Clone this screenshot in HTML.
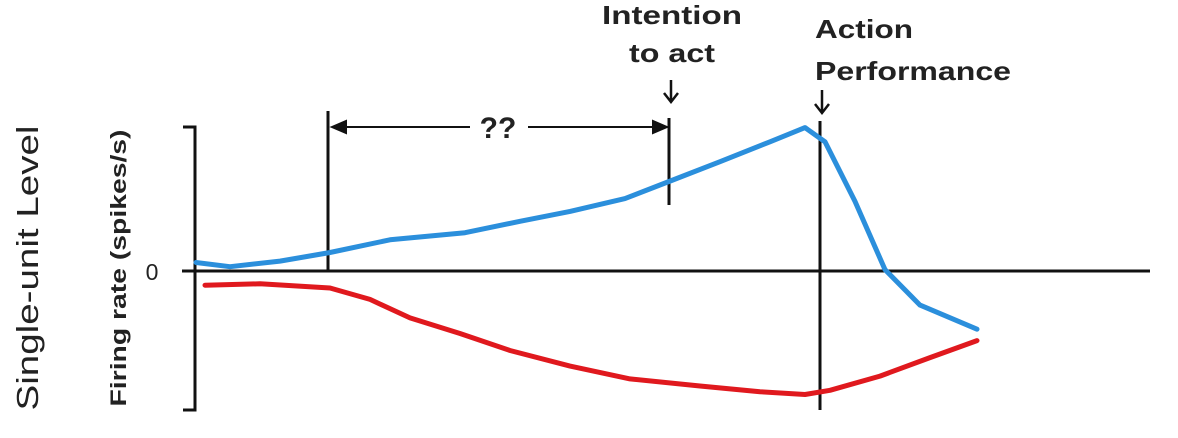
<!DOCTYPE html>
<html><head><meta charset="utf-8"><style>
html,body{margin:0;padding:0;background:#fff;}
svg{display:block;font-family:"Liberation Sans",sans-serif;}
</style></head><body>
<svg id="chart" width="1178" height="438" viewBox="0 0 1178 438">
<text transform="translate(38,268) rotate(-90)" text-anchor="middle" font-size="31" fill="#222" textLength="285" lengthAdjust="spacingAndGlyphs">Single-unit Level</text>
<text transform="translate(126,268) rotate(-90)" text-anchor="middle" font-size="22" font-weight="bold" fill="#222" textLength="277" lengthAdjust="spacingAndGlyphs">Firing rate (spikes/s)</text>
<text x="152" y="280" text-anchor="middle" font-size="23" fill="#222">0</text>
<g stroke="#111" stroke-width="3" fill="none">
<path d="M183,127 H195 V410 H183"/>
</g>
<line x1="182" y1="271" x2="1150" y2="271" stroke="#111" stroke-width="3"/>
<line x1="328" y1="111" x2="328" y2="271" stroke="#111" stroke-width="3"/>
<line x1="669" y1="118" x2="669" y2="205" stroke="#111" stroke-width="3"/>
<line x1="820" y1="121" x2="820" y2="410" stroke="#111" stroke-width="3"/>
<g stroke="#111" stroke-width="2" fill="#111">
<line x1="340" y1="127" x2="470" y2="127"/><line x1="528" y1="127" x2="658" y2="127"/>
<path d="M332,127 L346,121 L346,133 Z"/><path d="M667,127 L653,121 L653,133 Z"/>
</g>
<text x="498" y="138" text-anchor="middle" font-size="30" font-weight="bold" fill="#222">??</text>
<text x="672" y="24" text-anchor="middle" font-size="26" font-weight="bold" fill="#222" textLength="140" lengthAdjust="spacingAndGlyphs">Intention</text>
<text x="672" y="62" text-anchor="middle" font-size="26" font-weight="bold" fill="#222" textLength="86" lengthAdjust="spacingAndGlyphs">to act</text>
<text x="815" y="38" font-size="26" font-weight="bold" fill="#222" textLength="98" lengthAdjust="spacingAndGlyphs">Action</text>
<text x="815" y="80" font-size="26" font-weight="bold" fill="#222" textLength="196" lengthAdjust="spacingAndGlyphs">Performance</text>
<g stroke="#111" stroke-width="2.5" fill="none">
<path d="M671,80 V102 M664,93 L671,102 L678,93"/>
<path d="M822,90 V113 M815,104 L822,113 L829,104"/>
</g>
<g id="series"></g>
</svg>
<script>
const timeValues = [1,35,85,135,195,270,325,375,430,474,525,575,610,630,660,690,725,782];
const blueValues = [0.06,0.03,0.07,0.13,0.22,0.27,0.35,0.42,0.51,0.63,0.77,0.91,1.01,0.91,0.49,0.01,-0.24,-0.41];
const redTime = [10,65,135,175,215,265,315,375,435,505,565,610,635,685,735,782];
const redValues = [-0.1,-0.09,-0.12,-0.2,-0.33,-0.44,-0.56,-0.67,-0.76,-0.81,-0.85,-0.87,-0.84,-0.74,-0.61,-0.49];
function xs(t){return 195+t;}
function ys(v){return 271-v*142;}
function line(xv,yv){return xv.map((t,i)=>(i?'L':'M')+xs(t).toFixed(1)+','+ys(yv[i]).toFixed(1)).join(' ');}
const g=document.getElementById('series');
const ns='http://www.w3.org/2000/svg';
const b=document.createElementNS(ns,'path');


b.setAttribute('d',line(timeValues,blueValues));
b.setAttribute('stroke','#2b8fdc');b.setAttribute('stroke-width','5');b.setAttribute('fill','none');b.setAttribute('stroke-linejoin','round');b.setAttribute('stroke-linecap','round');
g.appendChild(b);
const r=document.createElementNS(ns,'path');


r.setAttribute('d',line(redTime,redValues));
r.setAttribute('stroke','#e0191e');r.setAttribute('stroke-width','5');r.setAttribute('fill','none');r.setAttribute('stroke-linejoin','round');r.setAttribute('stroke-linecap','round');
g.appendChild(r);
</script>
</body></html>
